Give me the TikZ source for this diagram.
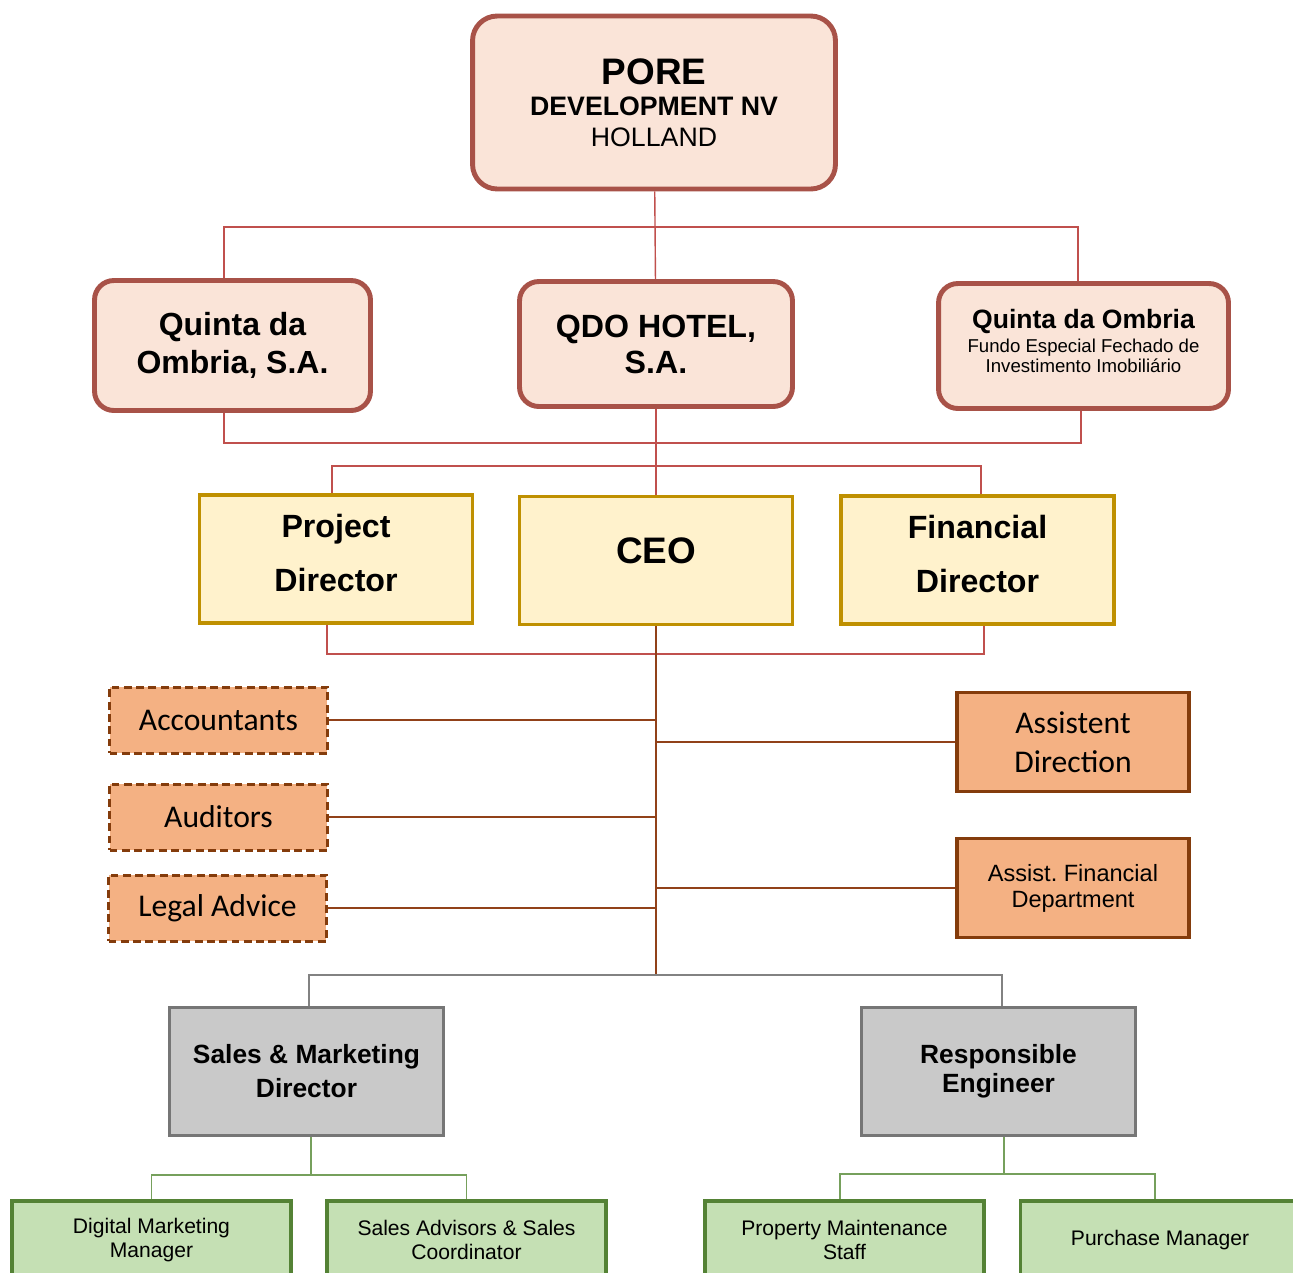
\documentclass[tikz,border=0pt]{standalone}
\usepackage{fontspec}
\setmainfont{Liberation Sans}
\newfontfamily\calibrifont{Carlito}
\usetikzlibrary{positioning}
\definecolor{rustred}{RGB}{168,82,72}
\definecolor{pastelrose}{RGB}{250,228,216}
\definecolor{linered}{RGB}{192,80,77}
\definecolor{oldgold}{RGB}{191,144,0}
\definecolor{pastelcream}{RGB}{255,242,204}
\definecolor{pastelorange}{RGB}{244,177,131}
\definecolor{darkrust}{RGB}{132,60,12}
\definecolor{linebrown}{RGB}{145,65,25}
\definecolor{pastelgray}{RGB}{201,201,201}
\definecolor{bordergray}{RGB}{118,118,118}
\definecolor{linegray}{RGB}{130,130,130}
\definecolor{pastelgreen}{RGB}{197,224,180}
\definecolor{leafgreen}{RGB}{84,130,53}
\definecolor{linegreen}{RGB}{118,160,92}
\tikzset{
  empresa/.style={
    rounded corners=11pt,
    draw=rustred,
    line width=2.8pt,
    fill=pastelrose,
    align=center,
    inner sep=0pt
  },
  direcao/.style={
    draw=oldgold,
    line width=1.8pt,
    fill=pastelcream,
    align=center,
    minimum width=5.46cm,
    minimum height=2.56cm,
    inner sep=0pt
  },
  apoio/.style={
    draw=darkrust,
    line width=1.7pt,
    dash pattern=on 4.5pt off 2.5pt,
    fill=pastelorange,
    align=center,
    minimum width=4.36cm,
    minimum height=1.32cm,
    inner sep=0pt,
    font=\calibrifont\fontsize{18}{21}\selectfont
  },
  assist/.style={
    draw=darkrust,
    line width=1.8pt,
    fill=pastelorange,
    align=center,
    minimum width=4.64cm,
    minimum height=1.98cm,
    inner sep=0pt
  },
  chefe/.style={
    draw=bordergray,
    line width=2pt,
    fill=pastelgray,
    align=center,
    minimum width=5.48cm,
    minimum height=2.56cm,
    inner sep=0pt
  },
  equipa/.style={
    draw=leafgreen,
    line width=2pt,
    fill=pastelgreen,
    align=center,
    minimum width=5.58cm,
    minimum height=1.56cm,
    inner sep=0pt,
    font=\fontsize{12}{13.6}\selectfont
  },
  lred/.style={line width=0.8pt, linered},
  lbrown/.style={line width=0.9pt, linebrown},
  lgray/.style={line width=0.9pt, linegray},
  lgreen/.style={line width=0.9pt, linegreen}
}

\begin{document}
\frenchspacing
\begin{tikzpicture}[x=0.02cm,y=-0.02cm]
\useasboundingbox (0,0) rectangle (1293,1272);
\clip (0,0) rectangle (1293,1272);

% holding and companies
\node[empresa, rounded corners=14pt, minimum width=7.26cm, minimum height=3.46cm,
      font=\fontsize{15.2}{17.5}\selectfont] (pore) at (654,102.5)
  {{\fontsize{21}{22}\selectfont\bfseries PORE}\\
   {\bfseries DEVELOPMENT NV}\\
   HOLLAND};
\node[empresa, minimum width=5.52cm, minimum height=2.6cm, font=\fontsize{18.2}{21.5}\selectfont\bfseries] (qom) at (232.5,345.5)
  {Quinta da\\Ombria, S.A.};
\node[empresa, minimum width=5.46cm, minimum height=2.5cm, font=\fontsize{18.3}{20.4}\selectfont\bfseries] (qdo) at (656,344)
  {QDO HOTEL,\\S.A.};
\node[empresa, minimum width=5.8cm, minimum height=2.5cm, text depth=6pt,
      font=\fontsize{10.6}{11.5}\selectfont] (fundo) at (1083.5,346)
  {{\fontsize{15.1}{16}\selectfont\bfseries Quinta da Ombria}\\[2pt]
   Fundo Especial Fechado de\\
   Investimento Imobiliário};

% direction
\node[direcao, text depth=7pt, font=\fontsize{18.3}{31.2}\selectfont\bfseries] (pdir) at (336,559) {Project\\Director};
\node[direcao, text depth=11pt, font=\fontsize{21}{24}\selectfont\bfseries] (ceo) at (656,560.5) {CEO};
\node[direcao, text depth=7pt, font=\fontsize{18.3}{31.2}\selectfont\bfseries] (fdir) at (977.5,560) {Financial\\Director};

% support
\node[apoio] (acc) at (218.5,720) {Accountants};
\node[apoio] (aud) at (218.5,817) {Auditors};
\node[apoio] (legal) at (217.5,908) {Legal Advice};
\node[assist, font=\calibrifont\fontsize{18}{22}\selectfont] (asdir) at (1073,742) {Assistent\\Direction};
\node[assist, font=\fontsize{13.4}{14.7}\selectfont] (asfin) at (1073,888) {Assist. Financial\\Department};

% departments
\node[chefe, font=\fontsize{15}{19.3}\selectfont\bfseries] (smd) at (306.5,1071.5) {Sales \& Marketing\\Director};
\node[chefe, font=\fontsize{15}{16.4}\selectfont\bfseries] (reng) at (998.5,1071.5) {Responsible\\Engineer};
\node[equipa] (dmm) at (151.5,1240) {Digital Marketing\\Manager};
\node[equipa] (sas) at (466.5,1240) {Sales Advisors \& Sales\\Coordinator};
\node[equipa] (pms) at (844.5,1240) {Property Maintenance\\Staff};
\node[equipa] (pur) at (1160,1240) {Purchase Manager};

% connectors
\coordinate (busA) at (653,227);
\coordinate (busB) at (656,443);
\coordinate (busC) at (656,466);
\coordinate (busD) at (656,654);
\coordinate (busE) at (656,975);
\path ([xshift=0.09cm]smd.south) ++(0,38) coordinate (busF);
\path ([xshift=0.11cm]reng.south) ++(0,37) coordinate (busG);

\draw[lred] (pore) -- (qdo);
\draw[lred] ([xshift=-0.17cm]qom.north) |- (busA) -| ([xshift=-0.11cm]fundo.north);
\draw[lred] (qdo) -- (ceo);
\draw[lred] ([xshift=-0.17cm]qom.south) |- (busB) -| ([xshift=-0.05cm]fundo.south);
\draw[lred] ([xshift=-0.08cm]pdir.north) |- (busC) -| ([xshift=0.07cm]fdir.north);
\draw[lred] ([xshift=-0.18cm]pdir.south) |- (busD) -| ([xshift=0.13cm]fdir.south);
\draw[lbrown] (ceo.south) -- (busE);
\foreach \n in {acc,aud,legal}
  \draw[lbrown] (\n.east) -- (\n.east -| ceo.south);
\foreach \n in {asdir,asfin}
  \draw[lbrown] (\n.west) -- (\n.west -| ceo.south);
\draw[lgray] ([xshift=0.05cm]smd.north) |- (busE) -| ([xshift=0.07cm]reng.north);
\draw[lgreen] ([xshift=0.09cm]smd.south) -- (busF);
\draw[lgreen] (dmm.north) |- (busF) -| (sas.north);
\draw[lgreen] ([xshift=0.11cm]reng.south) -- (busG);
\draw[lgreen] ([xshift=-0.09cm]pms.north) |- (busG) -| ([xshift=-0.1cm]pur.north);
\end{tikzpicture}
\end{document}
